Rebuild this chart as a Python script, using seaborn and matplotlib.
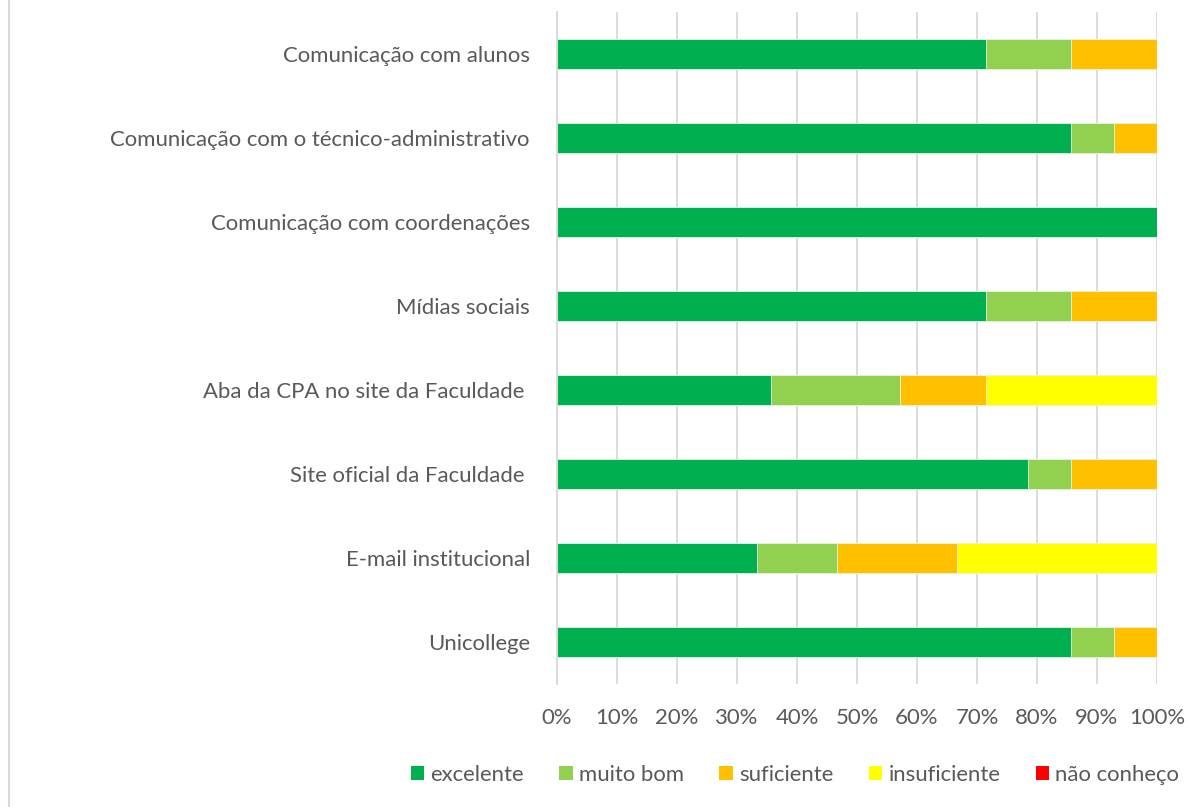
import numpy as np
import pandas as pd
import matplotlib
matplotlib.use("Agg")
import matplotlib.pyplot as plt
from matplotlib.patches import Patch
from matplotlib.lines import Line2D
import seaborn as sns

categories = [
    "Comunicação com alunos",
    "Comunicação com o técnico-administrativo",
    "Comunicação com coordenações",
    "Mídias sociais",
    "Aba da CPA no site da Faculdade ",
    "Site oficial da Faculdade ",
    "E-mail institucional",
    "Unicollege",
]
series_names = ["excelente", "muito bom", "suficiente", "insuficiente", "não conheço"]
excelente = [71.43, 85.71, 100.0, 71.43, 35.71, 78.57, 33.33, 85.71]
muito_bom = [14.29, 7.14, 0.0, 14.29, 21.43, 7.14, 13.33, 7.14]
suficiente = [14.29, 7.14, 0.0, 14.29, 14.29, 14.29, 20.00, 7.14]
insuficiente = [0.0, 0.0, 0.0, 0.0, 28.57, 0.0, 33.33, 0.0]
nao_conheco = [0.0, 0.0, 0.0, 0.0, 0.0, 0.0, 0.0, 0.0]
colors = ["#00B050", "#92D050", "#FFC000", "#FFFF00", "#FF0000"]
tick_labels = [f"{v}%" for v in range(0, 101, 10)]

sns.set_theme(style="white")
plt.rcParams["font.family"] = ["Lato", "DejaVu Sans"]
text_color = "#595959"
fs = 15.9

fig = plt.figure(figsize=(11.89, 8.07), dpi=100)
ax = fig.add_axes([557 / 1189, 1 - 684 / 807, 600 / 1189, 672 / 807])

vals = np.array([excelente, muito_bom, suficiente, insuficiente, nao_conheco])
cum = np.cumsum(vals, axis=0)
for i in range(len(series_names) - 1, -1, -1):
    df = pd.DataFrame({"cat": categories, "val": cum[i]})
    sns.barplot(data=df, y="cat", x="val", orient="h", color=colors[i],
                width=0.35, ax=ax, edgecolor="#E8F5E8", linewidth=0.6,
                saturation=1)

ax.set_xlim(0, 100)
ax.set_ylim(len(categories) - 0.5, -0.5)
ax.set_xticks(range(0, 101, 10))
ax.set_xticklabels(tick_labels)
ax.xaxis.grid(True, color="#D9D9D9", linewidth=1.3)
ax.set_axisbelow(True)
ax.set_xlabel("")
ax.set_ylabel("")
for s in ["top", "right", "bottom"]:
    ax.spines[s].set_visible(False)
ax.spines["left"].set_color("#D9D9D9")
ax.spines["left"].set_linewidth(1.3)
ax.tick_params(axis="both", length=0, labelsize=fs, colors=text_color)
ax.tick_params(axis="y", pad=19.5)
ax.tick_params(axis="x", pad=17)

handles = [Patch(facecolor=c, edgecolor="none") for c in colors]
fig.legend(handles, series_names, loc="center", bbox_to_anchor=(795 / 1189, 1 - 775 / 807),
           ncol=5, frameon=False, fontsize=fs, labelcolor=text_color,
           handlelength=0.62, handleheight=0.62, handletextpad=0.27, columnspacing=1.6,
           borderpad=0, borderaxespad=0)

fig.add_artist(Line2D([8.5 / 1189, 8.5 / 1189], [0, 1], transform=fig.transFigure,
                      color="#D9D9D9", linewidth=1.5))

fig.savefig("out.png", dpi=100, facecolor="white")
